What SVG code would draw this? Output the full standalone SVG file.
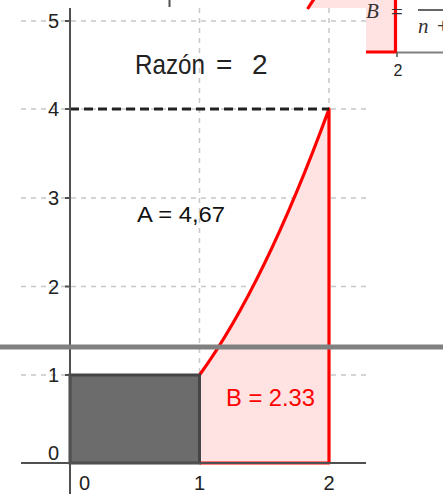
<svg xmlns="http://www.w3.org/2000/svg" width="443" height="494" viewBox="0 0 443 494">
<style>
.grid{stroke:#c8c8c8;stroke-width:1.5;stroke-dasharray:5 5;fill:none}
.axis{stroke:#505050;stroke-width:2;fill:none}
.lbl{font-family:"Liberation Sans",Arial,sans-serif;font-size:20px;fill:#222}
.red{stroke:#ff0000;stroke-width:3.2;fill:none;stroke-linejoin:round}
.pink{fill:#ffe3e3}
.math{font-family:"Liberation Serif","Times New Roman",serif;font-style:italic;font-size:21px;fill:#333}
</style>
<rect width="443" height="494" fill="#ffffff"/>
<g id="top-strip">
<line x1="169.5" y1="0" x2="169.5" y2="7" stroke="#505050" stroke-width="2"/>
<polygon class="pink" points="313,0 366,0 366,8 308,8"/>
<line x1="314" y1="-1" x2="307.5" y2="9" class="red"/>
</g>
<g id="inset">
<rect x="366" y="0" width="30" height="52" class="pink"/>
<polyline class="red" points="366,52 395.5,52 395.5,-2"/>
<line x1="397" y1="52.5" x2="443" y2="52.5" stroke="#808080" stroke-width="2"/>
<line x1="397" y1="52" x2="397" y2="57" stroke="#505050" stroke-width="1.5"/>
<text x="398" y="76" text-anchor="middle" font-family="Liberation Sans,Arial,sans-serif" font-size="16" fill="#222">2</text>
<text x="366" y="18" class="math">B</text>
<text x="391" y="19" font-family="Liberation Serif,serif" font-size="21" fill="#333">=</text>
<line x1="418" y1="10" x2="443" y2="10" stroke="#333" stroke-width="1.5"/>
<text x="418" y="33" class="math">n</text>
<text x="437" y="33" font-family="Liberation Serif,serif" font-size="21" fill="#333">+</text>
</g>
<g id="grid">
<line class="grid" x1="199.5" y1="8" x2="199.5" y2="463"/>
<line class="grid" x1="329" y1="8" x2="329" y2="463"/>
<line class="grid" x1="21" y1="21" x2="366" y2="21"/>
<line class="grid" x1="21" y1="109" x2="366" y2="109"/>
<line class="grid" x1="21" y1="198" x2="366" y2="198"/>
<line class="grid" x1="21" y1="286.5" x2="366" y2="286.5"/>
<line class="grid" x1="21" y1="375" x2="366" y2="375"/>
</g>
<g id="region-B">
<path class="pink" d="M199.5,375 Q264.2,286 329,109 L329,463 L199.5,463 Z"/>
<path class="red" d="M199.5,375 Q264.2,286 329,109 L329,463 L199.5,463"/>
</g>
<g id="region-rect">
<rect x="70" y="375" width="129.5" height="88" fill="#6c6c6c" stroke="#454545" stroke-width="3"/>
</g>
<g id="connectors">
<line x1="70" y1="109" x2="329" y2="109" stroke="#222" stroke-width="3" stroke-dasharray="9 5"/>
</g>
<g id="axes">
<line class="axis" x1="70" y1="8" x2="70" y2="494"/>
<line class="axis" x1="21" y1="463" x2="366" y2="463"/>
<line class="axis" x1="65" y1="21" x2="70" y2="21"/>
<line class="axis" x1="65" y1="109" x2="70" y2="109"/>
<line class="axis" x1="65" y1="198" x2="70" y2="198"/>
<line class="axis" x1="65" y1="286.5" x2="70" y2="286.5"/>
<line class="axis" x1="65" y1="375" x2="70" y2="375"/>
<text class="lbl" x="59" y="28" text-anchor="end">5</text>
<text class="lbl" x="59" y="116" text-anchor="end">4</text>
<text class="lbl" x="59" y="205" text-anchor="end">3</text>
<text class="lbl" x="59" y="293.5" text-anchor="end">2</text>
<text class="lbl" x="59" y="382" text-anchor="end">1</text>
<text class="lbl" x="59" y="460" text-anchor="end">0</text>
<text class="lbl" x="79" y="490">0</text>
<text class="lbl" x="199.5" y="490" text-anchor="middle">1</text>
<text class="lbl" x="329" y="490" text-anchor="middle">2</text>
</g>
<g id="labels">
<text x="135" y="74" font-family="Liberation Sans,Arial,sans-serif" font-size="28" fill="#222" textLength="70" lengthAdjust="spacingAndGlyphs">Razón</text>
<text x="216" y="74" font-family="Liberation Sans,Arial,sans-serif" font-size="28" fill="#222">=</text>
<text x="252" y="74" font-family="Liberation Sans,Arial,sans-serif" font-size="28" fill="#222">2</text>
<text x="137" y="222" font-family="Liberation Sans,Arial,sans-serif" font-size="22" fill="#111" textLength="88" lengthAdjust="spacingAndGlyphs">A = 4,67</text>
<text x="226" y="406" font-family="Liberation Sans,Arial,sans-serif" font-size="24" fill="#ff0000" textLength="89" lengthAdjust="spacingAndGlyphs">B = 2.33</text>
</g>
<rect x="0" y="344.5" width="443" height="5" fill="#808080"/>
</svg>
